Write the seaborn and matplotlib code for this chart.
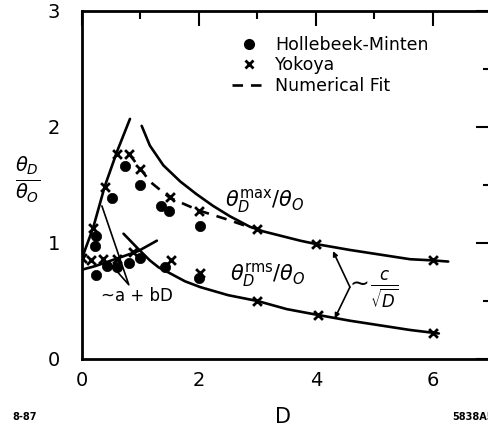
import numpy as np
import pandas as pd
import matplotlib
matplotlib.use("Agg")
import matplotlib.pyplot as plt
from matplotlib.lines import Line2D
import seaborn as sns

# ---------------- data ----------------
hm_D = [0.24, 0.22, 0.51, 0.73, 0.99, 1.35, 1.49, 2.02,
        0.24, 0.42, 0.59, 0.81, 0.99, 1.42, 2.00]
hm_y = [1.06, 0.97, 1.39, 1.66, 1.50, 1.32, 1.28, 1.15,
        0.72, 0.80, 0.79, 0.83, 0.87, 0.79, 0.70]

yk_D = [0.00, 0.19, 0.39, 0.59, 0.80, 1.00, 1.50, 2.00, 3.00, 4.00, 6.00,
        0.16, 0.36, 0.59, 0.87, 1.52, 2.02, 3.00, 4.03, 6.00]
yk_y = [0.87, 1.13, 1.48, 1.77, 1.77, 1.64, 1.40, 1.28, 1.12, 0.99, 0.85,
        0.85, 0.86, 0.86, 0.92, 0.85, 0.74, 0.50, 0.38, 0.22]

fit_D = [0.80, 1.00, 1.16, 1.50, 2.00, 2.50, 2.90]
fit_y = [1.77, 1.64, 1.53, 1.39, 1.28, 1.20, 1.13]

max_D = [1.02, 1.16, 1.39, 1.68, 1.96, 2.24, 2.53, 2.87, 3.10, 3.73, 4.01, 4.58, 5.61, 6.00, 6.26]
max_y = [2.01, 1.84, 1.67, 1.53, 1.42, 1.32, 1.23, 1.14, 1.10, 1.02, 0.99, 0.94, 0.86, 0.85, 0.84]

rms_D = [0.71, 0.94, 1.16, 1.31, 1.50, 1.76, 2.02, 2.50, 3.00, 3.50, 4.03, 4.58, 5.61, 6.10]
rms_y = [1.08, 0.96, 0.85, 0.79, 0.74, 0.67, 0.62, 0.55, 0.50, 0.43, 0.38, 0.33, 0.25, 0.22]

lin_up_D = [0.00, 0.19, 0.39, 0.60, 0.82]
lin_up_y = [0.87, 1.13, 1.49, 1.79, 2.07]

lin_lo_D = [0.00, 0.22, 0.62, 0.96, 1.28]
lin_lo_y = [0.77, 0.80, 0.87, 0.93, 1.02]

x_major = [0, 2, 4, 6]
x_minor = [1, 3, 5]
y_major = [0, 1, 2, 3]
y_minor = [0.5, 1.5, 2.5]

# ---------------- style ----------------
sns.set_theme(style="white")
plt.rcParams['font.family'] = ['DejaVu Sans']
plt.rcParams['mathtext.fontset'] = 'dejavusans'
for k in ('text.color', 'axes.labelcolor', 'xtick.color', 'ytick.color'):
    plt.rcParams[k] = 'black'

fig = plt.figure(figsize=(4.89, 4.33), dpi=100)
ax = fig.add_axes([82/489, 74/433, 7*58.5/489, 348/433])

lw = 1.9
sns.lineplot(x=max_D, y=max_y, ax=ax, color='black', lw=lw, sort=False, estimator=None)
sns.lineplot(x=rms_D, y=rms_y, ax=ax, color='black', lw=lw, sort=False, estimator=None)
sns.lineplot(x=lin_up_D, y=lin_up_y, ax=ax, color='black', lw=lw, sort=False, estimator=None)
sns.lineplot(x=lin_lo_D, y=lin_lo_y, ax=ax, color='black', lw=lw, sort=False, estimator=None)
sns.lineplot(x=fit_D, y=fit_y, ax=ax, color='black', lw=lw, sort=False, estimator=None,
             dashes=False, linestyle=(0, (4, 3)))

sns.scatterplot(x=hm_D, y=hm_y, ax=ax, color='black', marker='o', s=55, edgecolor='black',
                linewidth=0.5, zorder=5)
sns.scatterplot(x=yk_D, y=yk_y, ax=ax, color='black', marker='x', s=40, linewidth=2.0, zorder=6)

# annotation: ~a + bD
ax.plot([0.34, 0.80, 0.45], [1.32, 0.64, 0.84], color='black', lw=1.2)
ax.text(0.94, 0.54, r'~a + bD', ha='center', va='center', fontsize=12)

# annotation: ~c/sqrt(D)
for xe, ye in ((4.29, 0.93), (4.32, 0.35)):
    ax.annotate('', xy=(xe, ye), xytext=(4.58, 0.62),
                arrowprops=dict(arrowstyle='-|>', color='black', lw=1.2,
                                mutation_scale=7, shrinkA=0, shrinkB=0))
ax.text(4.96, 0.60, r'$\sim\!\frac{c}{\sqrt{D}}$', ha='center', va='center', fontsize=17)

# curve labels
ax.text(3.13, 1.36, r'$\theta_D^{\mathrm{max}}/\theta_O$', ha='center', va='center', fontsize=15)
ax.text(3.18, 0.72, r'$\theta_D^{\mathrm{rms}}/\theta_O$', ha='center', va='center', fontsize=15)

# legend
handles = [Line2D([], [], color='black', marker='o', ls='none', markersize=7),
           Line2D([], [], color='black', marker='x', ls='none', markersize=6, mew=2),
           Line2D([], [], color='black', ls=(0, (4, 3)), lw=lw)]
labels = ['Hollebeek-Minten', 'Yokoya', 'Numerical Fit']
leg = ax.legend(handles, labels, loc='upper left', bbox_to_anchor=(0.367, 0.929),
                frameon=False, fontsize=12.5, handlelength=1.9, handletextpad=0.55,
                labelspacing=0.15, borderaxespad=0, borderpad=0)
for t in leg.get_texts():
    t.set_color('black')

# axes
ax.set_xlim(0, 7)
ax.set_ylim(0, 3)
ax.set_xticks(x_major)
ax.set_xticks(x_minor, minor=True)
ax.set_yticks(y_major)
ax.set_yticks(y_minor, minor=True)
ax.set_xticklabels([str(v) for v in x_major])
ax.set_yticklabels([str(v) for v in y_major])
ax.tick_params(which='both', direction='in', top=True, right=True, color='black',
               labelcolor='black', width=1.5, labelsize=14)
ax.tick_params(which='major', length=11)
ax.tick_params(which='minor', length=6)
ax.tick_params(axis='y', pad=16)
ax.tick_params(axis='x', pad=9)
for sp in ax.spines.values():
    sp.set_visible(True)
    sp.set_color('black')
    sp.set_linewidth(2.0)
ax.set_xlabel('')
ax.set_ylabel('')

fig.text(283/489, 1-417/433, 'D', ha='center', va='center', fontsize=15)
fig.text(28/489, 1-180/433, r'$\frac{\theta_D}{\theta_O}$', ha='center', va='center', fontsize=20)
fig.text(25/489, 1-417/433, '8-87', ha='center', va='center', fontsize=7, weight='bold')
fig.text(452/489, 1-417/433, '5838A5', ha='left', va='center', fontsize=7, weight='bold')

fig.savefig('out.png', dpi=100)
